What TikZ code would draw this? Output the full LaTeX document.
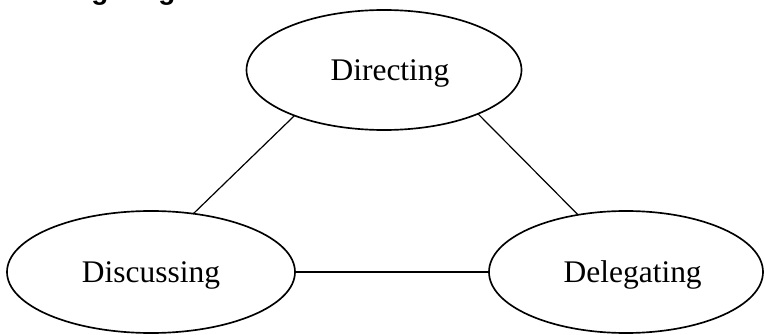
\documentclass[tikz,border=0pt]{standalone}
\usepackage{fontspec}
\setmainfont{Liberation Serif}
\newfontfamily\headfont{Liberation Sans}
\usetikzlibrary{shapes.geometric}

\begin{document}
\begin{tikzpicture}[x=0.75pt,y=-0.75pt,line cap=round,line join=round,
  stage/.style={draw,ellipse,line width=1.25pt,inner sep=0pt,outer sep=0pt,
    text depth=0pt,font=\fontsize{23.6}{28}\selectfont},
  link/.style={line width=0.9pt},
  heading/.style={font=\headfont\bfseries\fontsize{21}{25}\selectfont,inner sep=0pt}]
  \useasboundingbox (0,0) rectangle (765,335);
  \node[heading,anchor=base west] (head) at (32,-0.5) {Delegating};
  \node[stage,minimum width=206.25pt,minimum height=90pt] (dir) at (384,70) {\hspace*{9pt}Directing};
  \node[stage,minimum width=216pt,minimum height=91.5pt] (disc) at (151,272) {Discussing};
  \node[stage,minimum width=205.5pt,minimum height=91.5pt] (del) at (626,272) {\hspace*{10pt}Delegating};
  \draw[link] (dir.207.8) -- (disc.54.6);
  \draw[link] (dir.335.7) -- (del.130.6);
  \draw[link] (disc.east) -- (del.west);
\end{tikzpicture}
\end{document}
